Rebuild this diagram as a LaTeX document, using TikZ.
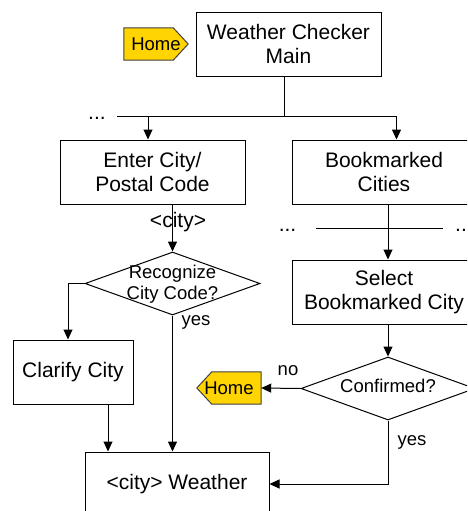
\documentclass[tikz,border=0pt]{standalone}
\usepackage{fontspec}
\setmainfont{Liberation Sans}
\usetikzlibrary{arrows.meta,calc,shapes.geometric,backgrounds}
\definecolor{tagyellow}{RGB}{255,212,0}
\begin{document}
\begin{tikzpicture}[x=1pt,y=-1pt,
  big/.style={font=\fontsize{21}{24}\selectfont},
  small/.style={font=\fontsize{18.5}{20.5}\selectfont},
  box/.style={draw=black,line width=1pt,rectangle,minimum width=185pt,minimum height=64pt,inner sep=0pt,align=center,big},
  decision/.style={draw=black,line width=1pt,diamond,minimum width=175pt,minimum height=63pt,inner sep=0pt},
  tagbox/.style={rectangle,minimum width=64pt,minimum height=32pt,inner sep=0pt,small},
  tagshape/.style={fill=tagyellow,draw=black!75,line width=1pt},
  conn/.style={draw=black,line width=1pt},
  arr/.style={conn,-{Triangle[length=10pt,width=9pt]}},
  lbl/.style={inner sep=0pt}]
\useasboundingbox (0,0) rectangle (467,511);
\clip (0,0) rectangle (467,511);

% process boxes
\node[box] (main)    at (288.5,44.3) {Weather Checker\\Main};
\node[box] (enter)   at (152.5,172)  {Enter City/\\Postal Code};
\node[box,minimum width=184pt] (book) at (384,172) {Bookmarked\\Cities};
\node[box,minimum width=184pt] (select) at (384,292) {Select\\Bookmarked City};
\node[box,minimum width=120pt] (clarify) at (73,372) {Clarify City};
\node[box,minimum width=184pt] (weather) at (177,484) {<city> Weather};

% decisions
\node[decision] (rc) at (172.5,283.5) {};
\node[small,align=center,lbl] (rctext) at (172.5,284) {Recognize\\City Code?};
\node[decision,minimum width=174pt] (conf) at (388,388.5) {};
\node[small,lbl] (conftext) at (388,386) {Confirmed?};

% home tags
\node[tagbox] (home1) at (156,44) {Home};
\node[tagbox] (home2) at (229,388) {Home};
\begin{scope}[on background layer]
  \draw[tagshape] (home1.north west) -- ($(home1.north east)+(-15,0)$) -- (home1.east)
    -- ($(home1.south east)+(-15,0)$) -- (home1.south west) -- cycle;
  \draw[tagshape] (home2.north east) -- ($(home2.north west)+(15,0)$) -- (home2.west)
    -- ($(home2.south west)+(15,0)$) -- (home2.south east) -- cycle;
\end{scope}

% top distribution bus
\coordinate (bus)  at (284,116);
\coordinate (busL) at (117,116);
\coordinate (busA) at (148,116);
\coordinate (busB) at (396.5,116);
\draw[conn] (main.south -| bus) -- (bus);
\draw[conn] (busL) -- (busB);
\draw[arr] (busA) -- (busA |- enter.north);
\draw[arr] (busB) -- (busB |- book.north);
\node[big,anchor=base,lbl] (dots1) at (97,119) {...};

% entry path
\draw[arr] (enter.south -| rc.north) -- (rc.north);
\node[big,lbl] (citylbl) at (178,222) {<city>};
\draw[arr] (rc.west) -| ($(clarify.north)+(-5,0)$);
\draw[arr] (rc.south) -- (rc.south |- weather.north);
\node[small,lbl] (yes1) at (196,322) {yes};
\coordinate (cl) at ($(clarify.south)+(35,0)$);
\draw[arr] (cl) -- (cl |- weather.north);

% bookmark path
\draw[arr] (book.south -| conf.north) -- (select.north -| conf.north);
\coordinate (midL) at (316,228);
\coordinate (midR) at (443,228);
\draw[conn] (midL) -- (midR);
\node[big,anchor=base,lbl] (dots2) at (287.5,231) {...};
\node[big,anchor=base west,lbl] (dots3) at (455,231) {...};
\draw[arr] (select.south -| conf.north) -- (conf.north);
\draw[arr] (conf.west) -- (home2.east);
\node[small,lbl] (nolbl) at (288,371) {no};
\draw[arr] (conf.south) |- (weather.east);
\node[small,lbl] (yes2) at (412,442) {yes};
\end{tikzpicture}
\end{document}
